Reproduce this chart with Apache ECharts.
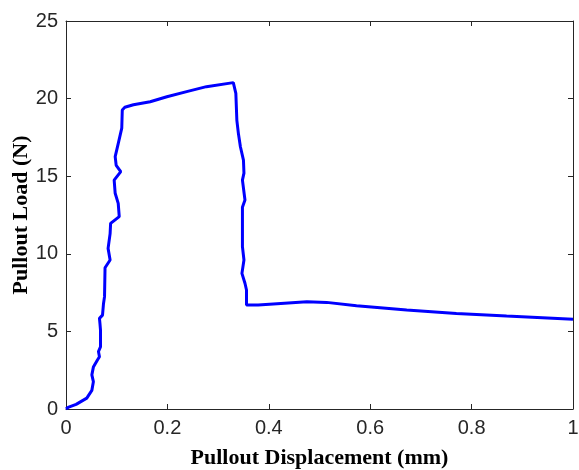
<!DOCTYPE html>
<html>
<head>
<meta charset="utf-8">
<script src="https://cdn.jsdelivr.net/npm/echarts@6/dist/echarts.min.js"></script>
<style>
html,body{margin:0;padding:0;background:#fff;}
#chart{width:579px;height:470px;}
</style>
</head>
<body>
<div id="chart"></div>
<script>
// Pullout displacement (mm)
const displacement = [
  0.000, 0.004, 0.020, 0.041, 0.051, 0.054, 0.051, 0.054, 0.062, 0.066, 0.064, 0.068,
  0.068, 0.067, 0.066, 0.072, 0.074, 0.076, 0.077, 0.087, 0.083, 0.087, 0.088, 0.105,
  0.103, 0.097, 0.095, 0.108, 0.099, 0.097, 0.103, 0.110, 0.111, 0.116, 0.133, 0.166,
  0.199, 0.238, 0.277, 0.330, 0.335, 0.337, 0.340, 0.344, 0.350, 0.351, 0.348, 0.353,
  0.348, 0.348, 0.351, 0.347, 0.353, 0.356, 0.356, 0.379, 0.409, 0.475, 0.514, 0.573,
  0.672, 0.770, 0.869, 1.000
];
// Pullout load (N)
const load = [
  0.00, 0.10, 0.30, 0.70, 1.20, 1.76, 2.20, 2.70, 3.16, 3.37, 3.70, 4.00,
  5.10, 5.50, 5.84, 6.05, 6.80, 7.24, 9.10, 9.60, 10.35, 11.30, 11.96, 12.40,
  13.25, 13.90, 14.75, 15.30, 15.70, 16.26, 17.10, 18.10, 19.27, 19.44, 19.60, 19.80,
  20.12, 20.45, 20.77, 21.03, 20.34, 18.60, 17.76, 16.90, 16.04, 15.20, 14.75, 13.47,
  13.00, 10.46, 9.60, 8.74, 8.10, 7.67, 6.70, 6.70, 6.77, 6.91, 6.87, 6.66,
  6.38, 6.16, 5.99, 5.78
];
const xTicks = [0, 0.2, 0.4, 0.6, 0.8, 1];
const yTicks = [0, 5, 10, 15, 20, 25];

const points = displacement.map((d, i) => [d, load[i]]);
const axisColor = '#262626';

const chart = echarts.init(document.getElementById('chart'), null, {renderer: 'canvas'});
function axis(extra) {
  return Object.assign({
    type: 'value',
    axisLine: {show: true, onZero: false, lineStyle: {color: axisColor, width: 1}},
    axisTick: {show: true, inside: true, length: 5, lineStyle: {color: axisColor}},
    splitLine: {show: false},
    nameMoveOverlap: false,
    axisLabel: {color: axisColor, fontFamily: 'Liberation Sans, Arial, sans-serif', fontSize: 20}
  }, extra);
}
const titleStyle = {fontFamily: 'Liberation Serif, Times New Roman, serif', fontWeight: 'bold', fontSize: 22, color: '#000'};
chart.setOption({
  animation: false,
  backgroundColor: '#ffffff',
  grid: {left: 66, right: 6, top: 21, bottom: 61, containLabel: false, outerBoundsMode: 'none'},
  xAxis: [
    axis({
      min: xTicks[0], max: xTicks[xTicks.length - 1], interval: 0.2,
      position: 'bottom',
      axisLabel: {color: axisColor, fontFamily: 'Liberation Sans, Arial, sans-serif', fontSize: 20, margin: 9},
      name: 'Pullout Displacement (mm)',
      nameLocation: 'middle', nameGap: 38,
      nameTextStyle: titleStyle
    }),
    axis({
      min: xTicks[0], max: xTicks[xTicks.length - 1], interval: 0.2,
      position: 'top', axisLabel: {show: false}
    })
  ],
  yAxis: [
    axis({
      min: yTicks[0], max: yTicks[yTicks.length - 1], interval: 5,
      position: 'left',
      axisLabel: {color: axisColor, fontFamily: 'Liberation Sans, Arial, sans-serif', fontSize: 20, margin: 8},
      name: 'Pullout Load (N)',
      nameLocation: 'middle', nameGap: 34,
      nameTextStyle: titleStyle
    }),
    axis({
      min: yTicks[0], max: yTicks[yTicks.length - 1], interval: 5,
      position: 'right', axisLabel: {show: false}
    })
  ],
  series: [{
    type: 'line',
    data: points,
    xAxisIndex: 0, yAxisIndex: 0,
    showSymbol: false,
    smooth: false,
    lineStyle: {color: '#0000ff', width: 3},
    itemStyle: {color: '#0000ff'}
  }]
});
</script>
</body>
</html>
